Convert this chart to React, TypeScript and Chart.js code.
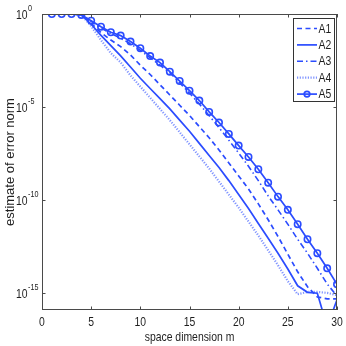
import React, { useEffect, useRef } from 'react';
import { Chart, registerables } from 'chart.js';

Chart.register(...registerables);

// x: space dimension m
const mValues = [1, 2, 3, 4, 5, 6, 7, 8, 9, 10, 11, 12, 13, 14, 15, 16, 17, 18, 19, 20, 21, 22, 23, 24, 25, 26, 27, 28, 29, 30];

// series values as log10 exponents
const a1Exp = [0, 0, 0, -0.03, -0.5, -1.0, -1.4, -1.75, -2.2, -2.75, -3.25, -3.8, -4.35, -4.9, -5.45, -6.05, -6.65, -7.3, -8.0, -8.7, -9.4, -10.2, -11.05, -11.95, -12.9, -13.85, -14.65, -15.2, -15.3, -15.3];
const a2Exp = [0, 0, 0, -0.04, -0.55, -1.15, -1.7, -2.25, -2.85, -3.45, -4.0, -4.55, -5.1, -5.7, -6.3, -6.95, -7.6, -8.25, -8.95, -9.7, -10.45, -11.25, -12.05, -12.85, -13.7, -14.6, -14.95, -15.0, -16.8, -15.35];
const a3Exp = [0, 0, 0, -0.03, -0.4, -0.75, -1.05, -1.3, -1.6, -1.95, -2.35, -2.75, -3.15, -3.7, -4.25, -4.83, -5.46, -6.1, -6.78, -7.47, -8.18, -8.95, -9.77, -10.52, -11.29, -12.1, -12.85, -13.66, -14.5, -15.15];
const a4Exp = [0, 0, 0, -0.05, -0.65, -1.4, -2.1, -2.6, -3.3, -3.9, -4.5, -5.1, -5.7, -6.35, -7.0, -7.65, -8.3, -9.0, -9.7, -10.4, -11.15, -11.9, -12.7, -13.5, -14.35, -15.05, -14.93, -14.93, -14.98, -15.1];
const a5Exp = [0, 0, 0, -0.05, -0.36, -0.68, -0.98, -1.16, -1.48, -1.84, -2.26, -2.61, -3.1, -3.6, -4.12, -4.65, -5.26, -5.83, -6.44, -7.07, -7.68, -8.34, -9.06, -9.81, -10.52, -11.29, -12.1, -12.85, -13.66, -14.52];

const seriesNames = ['A1', 'A2', 'A3', 'A4', 'A5'];
const xTickValues = [0, 5, 10, 15, 20, 25, 30];
const yTickExps = [0, -5, -10, -15];
const yMinExp = -15.9;
const yMaxExp = 0;
const xTitle = 'space dimension m';
const yTitle = 'estimate of error norm';

const BLUE = '#2b4cff';
const DOT_BLUE = 'rgba(43,76,255,0.6)';
const AXIS = '#4a4a4a';
const TEXT = '#1e1e1e';
const FONT = "'Liberation Sans', Arial, sans-serif";
const SQUEEZE = 0.8;

const dashes: number[][] = [[5, 3.5], [], [6, 3, 1.5, 3], [1.2, 1.5], []];
const colors = [BLUE, BLUE, BLUE, DOT_BLUE, BLUE];
const widths = [1.7, 1.7, 1.6, 2.2, 1.7];

const toPoints = (exps: number[]) => mValues.map((m, i) => ({ x: m, y: Math.pow(10, exps[i]) }));

// draw horizontally condensed text (the reference uses a narrow face)
function narrowText(ctx: CanvasRenderingContext2D, text: string, x: number, y: number, size: number, align: CanvasTextAlign) {
  ctx.save();
  ctx.font = `${size}px ${FONT}`;
  ctx.textAlign = align;
  ctx.textBaseline = 'middle';
  ctx.translate(x, y);
  ctx.scale(SQUEEZE, 1);
  ctx.fillText(text, 0, 0);
  ctx.restore();
}

function narrowWidth(ctx: CanvasRenderingContext2D, text: string, size: number) {
  ctx.save();
  ctx.font = `${size}px ${FONT}`;
  const w = ctx.measureText(text).width * SQUEEZE;
  ctx.restore();
  return w;
}

const decorPlugin = {
  id: 'decor',
  afterDraw(chart: any) {
    const { ctx, chartArea, scales } = chart;
    const { left, right, top, bottom } = chartArea;
    const xs = scales.x;
    const ys = scales.y;
    const TL = 3.5;
    ctx.save();
    ctx.strokeStyle = AXIS;
    ctx.lineWidth = 1;
    ctx.setLineDash([]);
    ctx.beginPath();
    xTickValues.forEach((v) => {
      const px = Math.round(xs.getPixelForValue(v)) + 0.5;
      ctx.moveTo(px, bottom);
      ctx.lineTo(px, bottom - TL);
      ctx.moveTo(px, top);
      ctx.lineTo(px, top + TL);
    });
    yTickExps.forEach((e) => {
      const py = Math.round(ys.getPixelForValue(Math.pow(10, e))) + 0.5;
      ctx.moveTo(left, py);
      ctx.lineTo(left + TL, py);
      ctx.moveTo(right, py);
      ctx.lineTo(right - TL, py);
    });
    ctx.stroke();
    ctx.strokeRect(Math.round(left) + 0.5, Math.round(top) + 0.5, Math.round(right - left) - 1, Math.round(bottom - top) - 1);

    ctx.fillStyle = TEXT;
    // x tick labels
    xTickValues.forEach((v) => {
      narrowText(ctx, String(v), xs.getPixelForValue(v), bottom + 12.5, 13, 'center');
    });
    // x title
    narrowText(ctx, xTitle, (left + right) / 2, bottom + 27, 13, 'center');

    // y tick labels: 10 with superscript exponent
    yTickExps.forEach((e) => {
      const py = ys.getPixelForValue(Math.pow(10, e));
      const baseX = 16;
      narrowText(ctx, '10', baseX, py + 1, 13, 'left');
      const w = narrowWidth(ctx, '10', 13);
      narrowText(ctx, e === 0 ? '0' : '-' + String(-e), baseX + w + 0.5, py - 5.5, 9, 'left');
    });

    // legend
    const bx = 293.5, by = 18.5, bw = 41, bh = 83;
    ctx.fillStyle = '#ffffff';
    ctx.fillRect(bx, by, bw, bh);
    ctx.strokeStyle = '#333333';
    ctx.lineWidth = 1;
    ctx.strokeRect(bx, by, bw, bh);
    seriesNames.forEach((name, i) => {
      const yy = 28.5 + i * 16.4;
      ctx.strokeStyle = colors[i];
      ctx.lineWidth = widths[i];
      ctx.setLineDash(dashes[i]);
      ctx.beginPath();
      ctx.moveTo(297, yy);
      ctx.lineTo(317, yy);
      ctx.stroke();
      ctx.setLineDash([]);
      if (i === 4) {
        ctx.beginPath();
        ctx.arc(307, yy, 2.8, 0, Math.PI * 2);
        ctx.stroke();
      }
      ctx.fillStyle = TEXT;
      narrowText(ctx, name, 318.5, yy + 0.5, 13, 'left');
    });
    ctx.restore();
  },
};

export default function App() {
  const canvasRef = useRef<HTMLCanvasElement | null>(null);

  useEffect(() => {
    document.body.style.margin = '0';
    const canvas = canvasRef.current;
    if (!canvas) return;
    const allExps = [a1Exp, a2Exp, a3Exp, a4Exp, a5Exp];
    const datasets = allExps.map((exps, i) => ({
      label: seriesNames[i],
      data: toPoints(exps),
      borderColor: colors[i],
      backgroundColor: colors[i],
      borderWidth: widths[i],
      borderDash: dashes[i],
      pointRadius: i === 4 ? 3.2 : 0,
      pointHoverRadius: i === 4 ? 3.2 : 0,
      pointStyle: 'circle',
      pointBorderColor: BLUE,
      pointBackgroundColor: 'rgba(0,0,0,0)',
      pointBorderWidth: 1.6,
      fill: false,
      tension: 0,
      order: 4 - i,
    }));

    const chart = new Chart(canvas, {
      type: 'line',
      data: { datasets },
      options: {
        animation: false,
        responsive: false,
        maintainAspectRatio: false,
        events: [],
        layout: { padding: { top: 14, right: 9, left: 0, bottom: 0 } },
        plugins: {
          legend: { display: false },
          tooltip: { enabled: false },
        },
        scales: {
          x: {
            type: 'linear',
            min: 0,
            max: 30,
            afterBuildTicks: (scale: any) => {
              scale.ticks = xTickValues.map((v) => ({ value: v }));
            },
            afterFit: (scale: any) => {
              scale.height = 36;
            },
            grid: { display: false },
            border: { display: false },
            ticks: { display: false },
            title: { display: false, text: xTitle },
          },
          y: {
            type: 'logarithmic',
            min: Math.pow(10, yMinExp),
            max: Math.pow(10, yMaxExp),
            afterBuildTicks: (scale: any) => {
              scale.ticks = yTickExps.map((e) => ({ value: Math.pow(10, e) }));
            },
            afterFit: (scale: any) => {
              scale.width = 42;
            },
            grid: { display: false },
            border: { display: false },
            ticks: { display: false },
            title: {
              display: true,
              text: yTitle,
              color: TEXT,
              font: { family: FONT, size: 13 },
              padding: { top: 3, bottom: 0 },
            },
          },
        },
      },
      plugins: [decorPlugin],
    });
    return () => chart.destroy();
  }, []);

  return (
    <div style={{ width: 346, height: 346 }}>
      <canvas ref={canvasRef} width={346} height={346} />
    </div>
  );
}
